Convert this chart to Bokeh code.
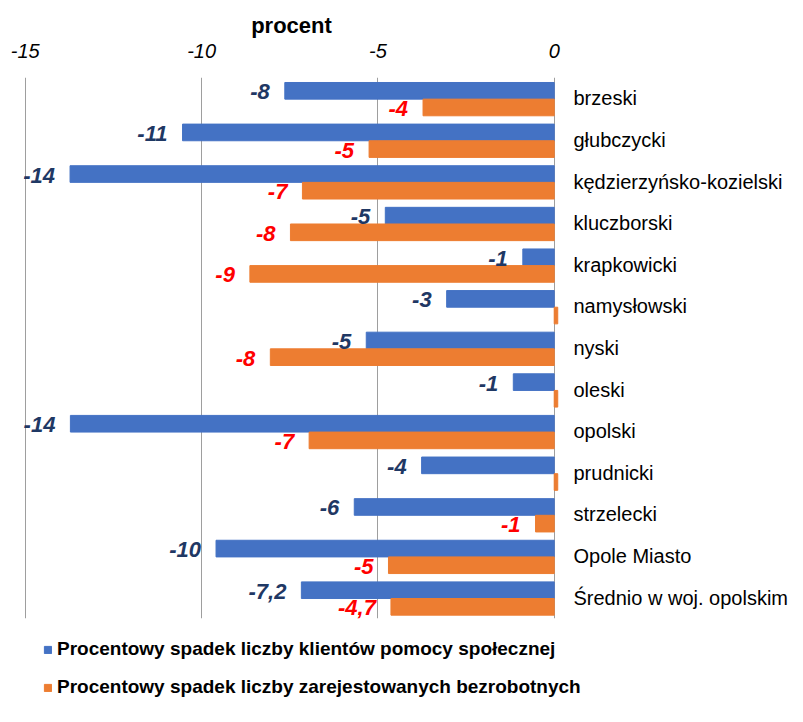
from bokeh.plotting import figure
from bokeh.models import (ColumnDataSource, FactorRange, Range1d, FixedTicker,
                          Legend, LegendItem)
from bokeh.transform import dodge
from bokeh.embed import file_html
from bokeh.resources import INLINE

# ---- data ----
powiaty = ["brzeski", "głubczycki", "kędzierzyńsko-kozielski", "kluczborski",
           "krapkowicki", "namysłowski", "nyski", "oleski", "opolski",
           "prudnicki", "strzelecki", "Opole Miasto", "Średnio w woj. opolskim"]
klienci = [-7.64, -10.54, -13.73, -4.79, -0.89, -3.05, -5.33, -1.16, -13.72,
           -3.76, -5.67, -9.59, -7.17]
bezrobotni = [-3.72, -5.25, -7.14, -7.48, -8.63, 0.1, -8.05, 0.1, -6.95,
              0.1, -0.53, -4.70, -4.63]
klienci_lbl = ["-8", "-11", "-14", "-5", "-1", "-3", "-5", "-1", "-14",
               "-4", "-6", "-10", "-7,2"]
bezrobotni_lbl = ["-4", "-5", "-7", "-8", "-9", "", "-8", "", "-7",
                  "", "-1", "-5", "-4,7"]
x_ticks = [-15, -10, -5, 0]
x_tick_labels = ["-15", "-10", "-5", "0"]
series_names = ["Procentowy spadek liczby klientów pomocy społecznej",
                "Procentowy spadek liczby zarejestowanych bezrobotnych"]

BLUE = "#4472C4"
ORANGE = "#ED7D31"
FONT = "Liberation Sans"

src = ColumnDataSource(dict(cat=powiaty, kl=klienci, bz=bezrobotni,
                            kl_lbl=klienci_lbl, bz_lbl=bezrobotni_lbl))

p = figure(y_range=FactorRange(factors=list(reversed(powiaty))),
           x_range=Range1d(-15.05, 0.15),
           frame_width=536, frame_height=541,
           min_border_left=23, min_border_right=5,
           min_border_top=77, min_border_bottom=104,
           x_axis_location="above", y_axis_location="right",
           output_backend="svg", toolbar_location=None)

rb = p.hbar(y=dodge("cat", 0.18, range=p.y_range), left=0, right="kl",
            height=0.4, color=BLUE, source=src)
ro = p.hbar(y=dodge("cat", -0.22, range=p.y_range), left=0, right="bz",
            height=0.4, color=ORANGE, source=src)

p.text(x="kl", y=dodge("cat", 0.18, range=p.y_range), text="kl_lbl",
       x_offset=-15, y_offset=1, text_align="right", text_baseline="middle",
       text_font={"value": FONT}, text_font_size="22px",
       text_font_style="bold italic", text_color="#1F3864", source=src)
p.text(x="bz", y=dodge("cat", -0.22, range=p.y_range), text="bz_lbl",
       x_offset=-15, y_offset=1, text_align="right", text_baseline="middle",
       text_font={"value": FONT}, text_font_size="22px",
       text_font_style="bold italic", text_color="#FF0000", source=src)

# top x axis
xa = p.xaxis[0]
xa.ticker = FixedTicker(ticks=x_ticks)
xa.major_label_overrides = dict(zip(x_ticks, x_tick_labels))
xa.axis_label = "procent"
xa.axis_label_text_font = FONT
xa.axis_label_text_font_size = "22px"
xa.axis_label_text_font_style = "bold"
xa.axis_label_text_color = "black"
xa.axis_label_standoff = 3
xa.major_label_text_font = FONT
xa.major_label_text_font_size = "20px"
xa.major_label_text_font_style = "italic"
xa.major_label_text_color = "black"
xa.major_label_standoff = 14
xa.axis_line_color = None
xa.major_tick_line_color = None
xa.minor_tick_line_color = None

# right category axis
ya = p.yaxis[0]
ya.axis_line_color = None
ya.major_tick_line_color = None
ya.major_tick_out = 0
ya.major_tick_in = 0
ya.major_label_standoff = 14
ya.major_label_text_font = FONT
ya.major_label_text_font_size = "20px"
ya.major_label_text_color = "black"

p.ygrid.grid_line_color = None
p.xgrid.grid_line_color = "#9E9E9E"
p.xgrid.grid_line_width = 1
p.outline_line_color = None

legend = Legend(items=[LegendItem(label=series_names[0], renderers=[rb]),
                       LegendItem(label=series_names[1], renderers=[ro])],
                location="top_left", orientation="vertical",
                spacing=16, padding=0, margin=20,
                glyph_width=9, glyph_height=9, label_standoff=5,
                label_height=20,
                label_text_font=FONT, label_text_font_size="19px",
                label_text_font_style="bold", label_text_color="black",
                border_line_color=None, background_fill_alpha=0)
p.add_layout(legend, "below")

open("out.html", "w").write(file_html(p, INLINE))
